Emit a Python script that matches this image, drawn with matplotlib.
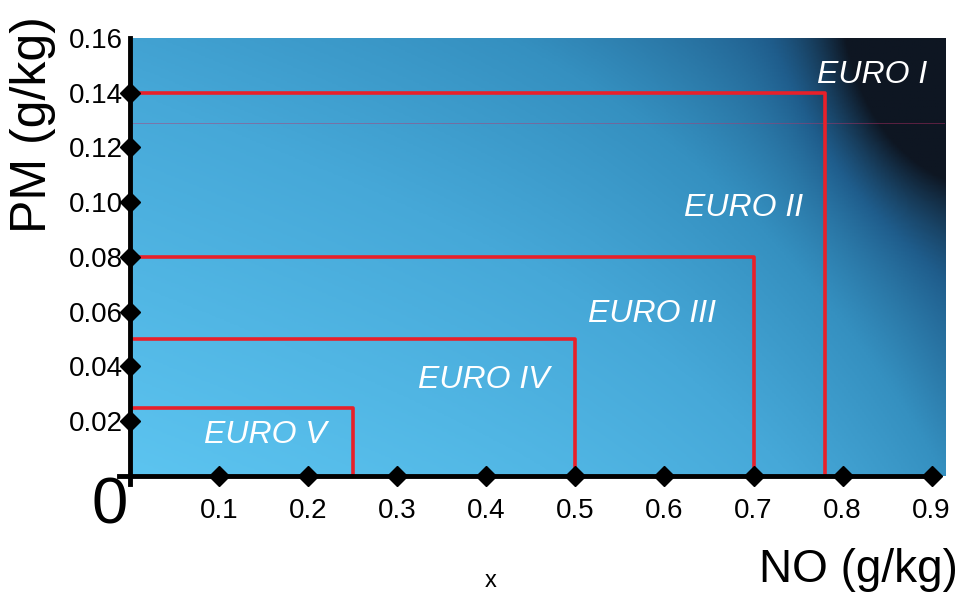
import numpy as np
import matplotlib.pyplot as plt
from matplotlib.colors import LinearSegmentedColormap

plt.rcParams['font.family'] = ['Liberation Sans', 'DejaVu Sans']

# emission limits (NO g/kg, PM g/kg)
stages = ['EURO II', 'EURO III', 'EURO IV', 'EURO V']
no_limit = [0.78, 0.70, 0.50, 0.25]
pm_limit = [0.14, 0.08, 0.05, 0.025]

label_text = ['EURO I', 'EURO II', 'EURO III', 'EURO IV', 'EURO V']
label_x = [0.833, 0.689, 0.586, 0.397, 0.152]
label_y = [0.1466, 0.098, 0.059, 0.035, 0.015]

xticks = [0.1, 0.2, 0.3, 0.4, 0.5, 0.6, 0.7, 0.8, 0.9]
yticks = [0.02, 0.04, 0.06, 0.08, 0.10, 0.12, 0.14, 0.16]

fig = plt.figure(figsize=(9.65, 5.94), dpi=100)
ax = fig.add_axes([0.1347, 0.1987, 0.8446, 0.7374])
xmax, ymax = 0.915, 0.16
ax.set_xlim(0, xmax)
ax.set_ylim(0, ymax)

# blue background, dark towards the upper right corner
cmap = LinearSegmentedColormap.from_list('bg', [
    (0.0, '#5cc4f0'), (0.35, '#46a8d8'), (0.55, '#3590c0'),
    (0.75, '#1f5d8c'), (1.0, '#0e1622')])
u, v = np.meshgrid(np.linspace(0, 1, 400), np.linspace(0, 1, 300))
t = (0.3 * u + 0.4 * v + 0.25 * u ** 4
     + 0.5 * np.exp(-((1 - u) ** 2 / 0.015 + (1 - v) ** 2 / 0.1)))
ax.imshow(np.clip(t, 0, 1), cmap=cmap, vmin=0, vmax=1, origin='lower',
          extent=[0, xmax, 0, ymax], aspect='auto', zorder=0)
ax.axhline(0.129, color='#c0306a', lw=0.6, alpha=0.5, zorder=1)

for nx, pm in zip(no_limit, pm_limit):
    ax.plot([0, nx, nx], [pm, pm, 0], color='#e8202a', lw=2.6, zorder=2)

for s, lx, ly in zip(label_text, label_x, label_y):
    ax.text(lx, ly, s, color='white', fontsize=23, style='italic',
            ha='center', va='center', zorder=3)

for sp in ax.spines.values():
    sp.set_visible(False)

# axes lines with diamond markers
ax.plot([0, 0], [-0.003, ymax], color='black', lw=3.5, clip_on=False, zorder=4)
ax.plot([-0.012, 0.9], [0, 0], color='black', lw=3.5, clip_on=False, zorder=4)
ax.plot([0] * 7, yticks[:-1], 'D', color='black', ms=10, clip_on=False, zorder=5)
ax.plot(xticks, [0] * 9, 'D', color='black', ms=10, clip_on=False, zorder=5)

ax.set_xticks(xticks)
ax.set_xticklabels(['%.1f' % x for x in xticks], fontsize=20)
ax.set_yticks(yticks)
ax.set_yticklabels(['%.2f' % y for y in yticks], fontsize=20)
ax.tick_params(axis='x', length=0, pad=16)
ax.tick_params(axis='y', length=0, pad=5)

fig.text(0.114, 0.148, '0', fontsize=47, ha='center', va='center')
fig.text(0.034, 0.79, 'PM (g/kg)', fontsize=36, rotation=90, ha='center', va='center')
fig.text(0.993, 0.041, 'NO (g/kg)', fontsize=33, ha='right', va='center')
fig.text(0.508, 0.022, 'x', fontsize=17, ha='center', va='center')

fig.savefig('out.png', dpi=100)
